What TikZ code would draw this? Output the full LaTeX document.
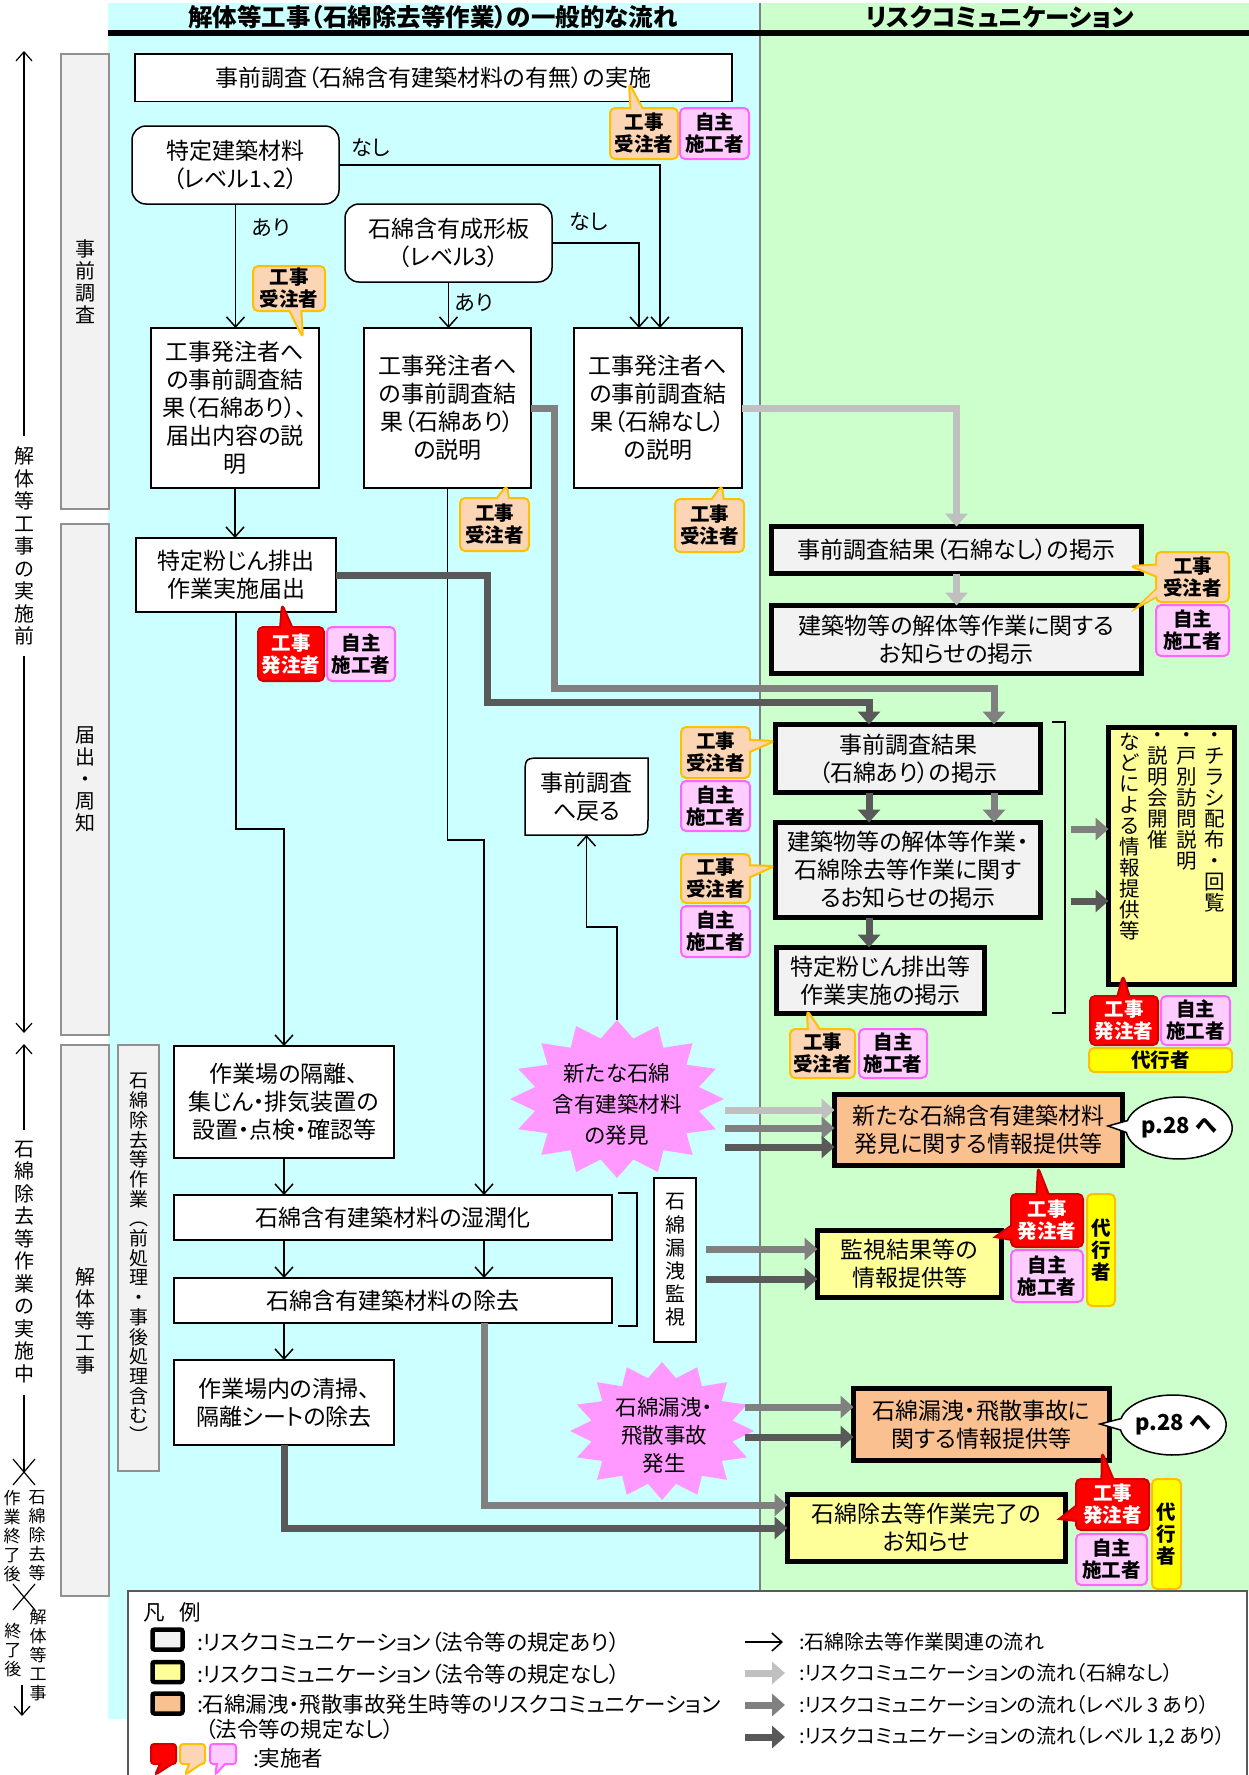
\documentclass[tikz,border=0pt]{standalone}
\usepackage{fontspec}
\setmainfont{Noto Sans CJK JP}[RawFeature={+palt}]
\newfontfamily\vjp{Noto Sans CJK JP}
\usetikzlibrary{arrows.meta,shapes.callouts}
\definecolor{cyanbg}{HTML}{CCFFFF}
\definecolor{greenbg}{HTML}{CCFFCC}
\definecolor{lgrayf}{HTML}{F2F2F2}
\definecolor{labb}{HTML}{909090}
\definecolor{ylw}{HTML}{FFFF99}
\definecolor{org}{HTML}{FAC090}
\definecolor{opeach}{HTML}{FCD5B4}
\definecolor{ogold}{HTML}{FFC000}
\definecolor{pinkf}{HTML}{FFCCFF}
\definecolor{pinkb}{HTML}{FF66FF}
\definecolor{redf}{HTML}{FF0000}
\definecolor{redb}{HTML}{D00000}
\definecolor{dai}{HTML}{FFFF00}
\definecolor{starp}{HTML}{FF99FF}
\definecolor{arL}{HTML}{C0C0C0}
\definecolor{arM}{HTML}{808080}
\definecolor{arD}{HTML}{595959}
\newcommand\fsz[2]{\fontsize{#1}{#2}\selectfont}
\newcommand\starb[4]{\fill[starp] plot[variable=\t, samples at={0,...,31}] ({#1+(1-0.22*mod(\t,2))*#3*sin(\t*11.25)},{#2-(1-0.22*mod(\t,2))*#4*cos(\t*11.25)}) -- cycle;}
\begin{document}
\begin{tikzpicture}[x=1pt,y=-1pt,
 every node/.style={inner sep=0pt,outer sep=0pt},
 sz/.style 2 args={minimum width=#1pt,minimum height=#2pt},
 mtext/.style={font=\fsz{23}{28},align=center},
 wbox/.style={mtext,draw=black,fill=white,line width=1.5pt},
 rwbox/.style={wbox,rounded corners=14pt},
 lawbox/.style={mtext,draw=black,fill=lgrayf,line width=5pt},
 ybox/.style={lawbox,fill=ylw},
 obox/.style={lawbox,fill=org},
 labbox/.style={draw=labb,fill=lgrayf,line width=2pt,font=\vjp\fsz{20}{22},align=center},
 vt/.style={font=\vjp\fsz{20}{22.5},align=center},
 vts/.style={font=\vjp\fsz{17}{19},align=center},
 call/.style={align=center,font=\bfseries\fsz{19.5}{22},rounded corners=5pt,line width=2pt},
 ocall/.style={call,rectangle callout,callout pointer width=12pt,draw=ogold,fill=opeach},
 rcall/.style={call,rectangle callout,callout pointer width=12pt,draw=redb,fill=redf,text=white},
 pcall/.style={call,draw=pinkb,fill=pinkf},
 pcallp/.style={call,rectangle callout,callout pointer width=8pt,draw=pinkb,fill=pinkf},
 dcall/.style={call,draw=ogold,fill=dai},
 lab/.style={font=\fsz{21}{24}},
 legt/.style={font=\fsz{21.5}{24},anchor=west},
 legr/.style={font=\fsz{20}{24},anchor=west},
 pbub/.style={ellipse callout,draw=black,fill=white,line width=1.5pt,callout pointer arc=22,font=\bfseries\fsz{22}{26}},
 barr/.style={draw=black,line width=1.5pt,-{Straight Barb[length=10pt,width=18pt]}},
 tlarr/.style={draw=black,line width=1.2pt,-{Straight Barb[length=9pt,width=16pt]}},
 garr/.style={line width=7pt,-{Triangle[length=13pt,width=22pt]}},
 larr/.style={garr,draw=arL},
 marr/.style={garr,draw=arM},
 darr/.style={garr,draw=arD},
 brk/.style={draw=black,line width=1.5pt}]
\useasboundingbox (0,0) rectangle (1249,1775);
\fill[white] (0,0) rectangle (1249,1775);
\fill[cyanbg] (108,3) rectangle (760,1719);
\fill[greenbg] (760,3) rectangle (1249,1591);
\draw[arM,line width=2pt] (760,3) -- (760,1591);
\draw[line width=6pt] (108,33) -- (1249,33);
\node[font=\bfseries\fsz{24.5}{28}] (T1) at (433,17) {解体等工事（石綿除去等作業）の一般的な流れ};
\node[font=\bfseries\fsz{24.5}{28}] (T2) at (1000,17) {リスクコミュニケーション};

% time line
\node[vt] (TL1) at (24,546) {解\\体\\等\\工\\事\\の\\実\\施\\前};
\draw[tlarr] (24,436) -- (24,51);
\draw[tlarr] (24,656) -- (24,1033);
\node[vt] (TL2) at (24,1262) {石\\綿\\除\\去\\等\\作\\業\\の\\実\\施\\中};
\draw[tlarr] (24,1130) -- (24,1044);
\draw[draw=black,line width=1.2pt] (24,1395) -- (24,1472);
\draw[line width=1.2pt] (13,1459) -- (35,1485) (13,1485) -- (35,1459);
\node[vts] (TL3a) at (37,1536) {石\\綿\\除\\去\\等};
\node[vts] (TL3b) at (12,1536) {作\\業\\終\\了\\後};
\draw[line width=1.2pt] (13,1584) -- (35,1610) (13,1610) -- (35,1584);
\node[vts] (TL4a) at (38,1655) {解\\体\\等\\工\\事};
\node[vts] (TL4b) at (13,1650) {終\\了\\後};
\draw[tlarr] (22,1685) -- (22,1716);

% phase labels
\node[labbox,sz={48}{455}] (L1) at (85,281.5) {事\\前\\調\\査};
\node[labbox,sz={48}{511}] (L2) at (85,779.5) {届\\出\\・\\周\\知};
\node[labbox,sz={48}{551}] (L3) at (85,1320.5) {解\\体\\等\\工\\事};
\node[labbox,sz={41}{426},font=\vjp\fsz{19}{19.7}] (L4) at (138.5,1258) {石\\綿\\除\\去\\等\\作\\業\\︵\\前\\処\\理\\・\\事\\後\\処\\理\\含\\む\\︶};

% main flow boxes
\node[wbox,sz={597}{47.5}] (N0) at (433.5,77.5) {事前調査（石綿含有建築材料の有無）の実施};
\node[rwbox,sz={207}{78}] (N1) at (235.5,165) {特定建築材料\\（レベル1、2）};
\node[rwbox,sz={207}{78}] (N2) at (448.5,243) {石綿含有成形板\\（レベル3）};
\node[wbox,sz={168}{160}] (NA) at (235,408) {工事発注者へ\\の事前調査結\\果（石綿あり）、\\届出内容の説\\明};
\node[wbox,sz={167}{160}] (NB) at (447.5,408) {工事発注者へ\\の事前調査結\\果（石綿あり）\\の説明};
\node[wbox,sz={168}{160}] (NC) at (658,408) {工事発注者へ\\の事前調査結\\果（石綿なし）\\の説明};
\node[wbox,sz={200}{74}] (N3) at (236,575) {特定粉じん排出\\作業実施届出};
\node[wbox,sz={220}{112}] (N4) at (284,1102) {作業場の隔離、\\集じん・排気装置の\\設置・点検・確認等};
\node[wbox,sz={438}{45}] (N5) at (393,1217.5) {石綿含有建築材料の湿潤化};
\node[wbox,sz={438}{45}] (N6) at (393,1300.5) {石綿含有建築材料の除去};
\node[wbox,sz={220}{85}] (N7) at (284,1402.5) {作業場内の清掃、\\隔離シートの除去};
\node[wbox,sz={42}{164},font=\vjp\fsz{20}{23.2}] (MON) at (675,1260) {石\\綿\\漏\\洩\\監\\視};
\draw[line width=1.5pt,fill=white] (525,835) -- (525,776) .. controls (525,758) .. (543,758) -- (648,758) -- (648,817) .. controls (648,835) .. (630,835) -- cycle;
\node[mtext,sz={123}{77}] (RET) at (586.5,796.5) {事前調査\\へ戻る};
\starb{617}{1099}{107}{79}
\node[font=\fsz{21.5}{31},align=center] (S1) at (617,1104) {新たな石綿\\含有建築材料\\の発見};
\coordinate (S1top) at (617,1020);
\starb{662}{1431}{92}{69}
\node[font=\fsz{21.5}{28},align=center] (S2) at (664,1435) {石綿漏洩・\\飛散事故\\発生};

% right column boxes
\node[lawbox,sz={370}{47}] (R1) at (956.5,550) {事前調査結果（石綿なし）の掲示};
\node[lawbox,sz={370}{68}] (R2) at (956.5,639.5) {建築物等の解体等作業に関する\\お知らせの掲示};
\node[lawbox,sz={265}{68}] (R3) at (908,758.5) {事前調査結果\\（石綿あり）の掲示};
\node[lawbox,sz={265}{95}] (R4) at (908,870) {建築物等の解体等作業・\\石綿除去等作業に関す\\るお知らせの掲示};
\node[lawbox,sz={208}{66}] (R5) at (880.5,980.5) {特定粉じん排出等\\作業実施の掲示};
\node[ybox,sz={126}{257}] (Y1) at (1171.5,856) {};
\node[font=\vjp\fsz{20.5}{21},align=center,anchor=north] (Y1a) at (1215,733) {・\\チ\\ラ\\シ\\配\\布\\・\\回\\覧};
\node[font=\vjp\fsz{20.5}{21},align=center,anchor=north] (Y1b) at (1187,733) {・\\戸\\別\\訪\\問\\説\\明};
\node[font=\vjp\fsz{20.5}{21},align=center,anchor=north] (Y1c) at (1158,733) {・\\説\\明\\会\\開\\催};
\node[font=\vjp\fsz{20.5}{21},align=center,anchor=north] (Y1d) at (1130,733) {な\\ど\\に\\よ\\る\\情\\報\\提\\供\\等};
\node[obox,sz={288}{71}] (O1) at (978.5,1130) {新たな石綿含有建築材料\\発見に関する情報提供等};
\node[pbub,sz={100}{62},callout absolute pointer={(1108,1126)}] (P1) at (1179,1128) {p.28 へ};
\node[ybox,sz={184}{67}] (Y2) at (909.5,1264) {監視結果等の\\情報提供等};
\node[obox,sz={256}{72}] (O2) at (981.5,1424.5) {石綿漏洩・飛散事故に\\関する情報提供等};
\node[pbub,sz={104}{60},callout absolute pointer={(1100,1424)}] (P2) at (1173,1425) {p.28 へ};
\node[ybox,sz={278}{67}] (Y3) at (926.5,1528) {石綿除去等作業完了の\\お知らせ};

% thin connectors
\draw[barr] (N1.south) -- (N1.south |- NA.north);
\node[lab] (ar1) at (271,228) {あり};
\draw[barr] (N1.east) -| ([xshift=2pt]NC.north);
\node[lab] (ns1) at (371,148) {なし};
\draw[barr] (N2.south) -- (N2.south |- NB.north);
\node[lab] (ar2) at (474,303) {あり};
\draw[barr] (N2.east) -| ([xshift=-19pt]NC.north);
\node[lab] (ns2) at (589,222) {なし};
\draw[barr] (NA.south) -- (NA.south |- N3.north);
\draw[barr] (N3.south) -- (236,829) -| (N4.north);
\draw[barr] (NB.south) -- (447.5,840) -| ([xshift=91pt]N5.north);
\draw[barr] (N4.south) -- (N4.south |- N5.north);
\draw[barr] ([xshift=91pt]N5.south) -- ([xshift=91pt]N6.north);
\draw[barr] ([xshift=-109pt]N5.south) -- ([xshift=-109pt]N6.north);
\draw[barr] ([xshift=-109pt]N6.south) -- (N7.north);
\draw[barr] (S1top) |- (586.5,927) -- (RET.south);
\draw[brk] (1052,722) -- (1065,722) -- (1065,1013) -- (1052,1013);
\draw[brk] (618,1193) -- (637,1193) -- (637,1326) -- (618,1326);

% thick connectors
\draw[larr] (NC.east) -| (R1.north);
\draw[larr] (R1.south) -- (R2.north);
\draw[marr] (NB.east) -- (554,408) |- (994,688) -- ([xshift=86pt]R3.north);
\draw[darr] (N3.east) -- (487,575) |- (869,702) -- ([xshift=-39pt]R3.north);
\draw[darr] ([xshift=-39pt]R3.south) -- ([xshift=-39pt]R4.north);
\draw[marr] ([xshift=86pt]R3.south) -- ([xshift=86pt]R4.north);
\draw[darr] ([xshift=-39pt]R4.south) -- ([xshift=-11.5pt]R5.north);
\coordinate (B1a) at (1071,829);
\coordinate (B1b) at (1071,901);
\draw[marr] (B1a) -- (Y1.west |- B1a);
\draw[darr] (B1b) -- (Y1.west |- B1b);
\coordinate (S1a) at (725,1110);
\coordinate (S1b) at (725,1128);
\coordinate (S1c) at (725,1147);
\draw[larr] (S1a) -- (O1.west |- S1a);
\draw[marr] (S1b) -- (O1.west |- S1b);
\draw[darr] (S1c) -- (O1.west |- S1c);
\coordinate (M1a) at (706,1249);
\coordinate (M1b) at (706,1279);
\draw[marr] (M1a) -- (Y2.west |- M1a);
\draw[darr] (M1b) -- (Y2.west |- M1b);
\coordinate (S2a) at (745,1407);
\coordinate (S2b) at (745,1437);
\draw[marr] (S2a) -- (O2.west |- S2a);
\draw[darr] (S2b) -- (O2.west |- S2b);
\draw[marr] ([xshift=91pt]N6.south) |- (Y3.west |- 0,1505);
\draw[darr] (N7.south) |- (Y3.west);

% callouts
\node[ocall,sz={68}{51},callout absolute pointer={(629,83)}] (C0a) at (644,133.5) {工事\\受注者};
\node[pcall,sz={69}{51}] (C0b) at (714.5,133.5) {自主\\施工者};
\node[ocall,sz={72}{45},callout absolute pointer={(303,338)}] (C1) at (289,288.5) {工事\\受注者};
\node[ocall,sz={69}{53},callout absolute pointer={(507,485)}] (C2) at (494.5,524.5) {工事\\受注者};
\node[ocall,sz={69}{53},callout absolute pointer={(722,485)}] (C3) at (709.5,525.5) {工事\\受注者};
\node[rcall,sz={66}{54},callout absolute pointer={(282,604)}] (C4) at (291,654) {工事\\発注者};
\node[pcall,sz={68}{54}] (C4b) at (361,654) {自主\\施工者};
\node[ocall,sz={73}{50},callout absolute pointer={(1130,566)}] (C5) at (1192.5,577) {工事\\受注者};
\fill[opeach] (1158,588) -- (1135,609) -- (1158,597) -- cycle;
\draw[ogold,line width=1.5pt] (1157,588) -- (1135,609) -- (1157,597);
\node[pcall,sz={73}{51}] (C5b) at (1192.5,630.5) {自主\\施工者};
\node[ocall,sz={69}{51},callout absolute pointer={(775,741)}] (C6) at (715.5,752.5) {工事\\受注者};
\node[pcall,sz={69}{50}] (C6b) at (715.5,806) {自主\\施工者};
\node[ocall,sz={69}{49},callout absolute pointer={(775,866)}] (C7) at (715.5,878.5) {工事\\受注者};
\node[pcall,sz={69}{51}] (C7b) at (715.5,931.5) {自主\\施工者};
\node[ocall,sz={65}{49},callout absolute pointer={(807,1010)}] (C8) at (822.5,1053.5) {工事\\受注者};
\node[pcall,sz={68}{49}] (C8b) at (893,1053.5) {自主\\施工者};
\node[rcall,sz={68}{49},callout absolute pointer={(1123,975)}] (C9) at (1124,1020.5) {工事\\発注者};
\node[pcall,sz={69}{49}] (C9b) at (1195.5,1020.5) {自主\\施工者};
\node[dcall,sz={143}{24}] (C9c) at (1160.5,1060) {代行者};
\node[rcall,sz={72}{53},callout absolute pointer={(1038,1167)}] (C10) at (1047,1220.5) {工事\\発注者};
\fill[redf] (1014,1225) -- (995,1237) -- (1014,1240) -- cycle;
\draw[redb,line width=2pt] (1012,1225) -- (995,1237) -- (1012,1240);
\node[pcall,sz={72}{52}] (C10b) at (1047,1276) {自主\\施工者};
\node[dcall,sz={28}{112},font=\bfseries\vjp\fsz{19.5}{22}] (C10c) at (1101,1250) {代\\行\\者};
\node[rcall,sz={73}{51},callout absolute pointer={(1102,1452)}] (C11) at (1112.5,1504.5) {工事\\発注者};
\fill[redf] (1079,1505) -- (1059,1519) -- (1079,1521) -- cycle;
\draw[redb,line width=2pt] (1077,1505) -- (1059,1519) -- (1077,1521);
\node[pcall,sz={71}{51}] (C11b) at (1111.5,1559.5) {自主\\施工者};
\node[dcall,sz={29}{110},font=\bfseries\vjp\fsz{19.5}{22}] (C11c) at (1166.5,1534) {代\\行\\者};

% legend
\draw[arD,fill=white,line width=2pt] (128,1591) rectangle (1247,1795);
\node[legt] (LGT) at (143,1612) {凡\hspace{0.7em}例};
\node[draw=black,line width=4.5pt,fill=lgrayf,rounded corners=2pt,sz={30}{20}] (LG1) at (167.5,1639.5) {};
\node[draw=black,line width=4.5pt,fill=ylw,rounded corners=2pt,sz={30}{20}] (LG2) at (167.5,1672) {};
\node[draw=black,line width=4.5pt,fill=org,rounded corners=2pt,sz={30}{20}] (LG3) at (167.5,1703.5) {};
\node[legt] (LT1) at (197,1642) {:リスクコミュニケーション（法令等の規定あり）};
\node[legt] (LT2) at (197,1674) {:リスクコミュニケーション（法令等の規定なし）};
\node[legt] (LT3) at (197,1704) {:石綿漏洩・飛散事故発生時等のリスクコミュニケーション};
\node[legt] (LT4) at (205,1729) {（法令等の規定なし）};
\node[rcall,sz={25}{20},rounded corners=3pt,callout absolute pointer={(155,1775)}] (LC1) at (163.5,1754) {};
\node[ocall,sz={25}{20},rounded corners=3pt,callout absolute pointer={(185,1775)}] (LC2) at (192.5,1754) {};
\node[pcallp,sz={26}{20},rounded corners=3pt,callout absolute pointer={(215,1775)}] (LC3) at (223,1754) {};
\node[legt] (LT5) at (253,1758) {:実施者};
\coordinate (LA1) at (745,1642);
\coordinate (LA2) at (745,1673);
\coordinate (LA3) at (745,1705);
\coordinate (LA4) at (745,1737);
\node[legr] (LR1) at (799,1642) {:石綿除去等作業関連の流れ};
\node[legr] (LR2) at (799,1673) {:リスクコミュニケーションの流れ（石綿なし）};
\node[legr] (LR3) at (799,1705) {:リスクコミュニケーションの流れ（レベル 3 あり）};
\node[legr] (LR4) at (799,1737) {:リスクコミュニケーションの流れ（レベル 1,2 あり）};
\draw[barr] (LA1) -- ([xshift=-16pt]LR1.west);
\draw[larr] (LA2) -- ([xshift=-14pt]LR2.west);
\draw[marr] (LA3) -- ([xshift=-14pt]LR3.west);
\draw[darr] (LA4) -- ([xshift=-14pt]LR4.west);
\end{tikzpicture}
\end{document}
